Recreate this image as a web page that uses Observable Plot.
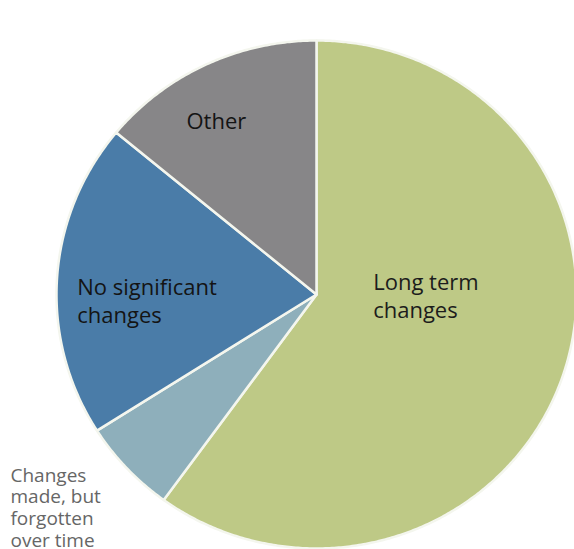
<!DOCTYPE html>
<html>
<head>
<meta charset="utf-8">
<script src="https://cdn.jsdelivr.net/npm/d3@7"></script>
<script src="https://cdn.jsdelivr.net/npm/@observablehq/plot@0.6"></script>
<style>
  html, body { margin: 0; padding: 0; background: #ffffff; }
  #chart svg { display: block; }
</style>
</head>
<body>
<div id="chart"></div>
<script>
// Data (clockwise from 12 o'clock)
const categories = ["Long term changes", "Changes made, but forgotten over time", "No significant changes", "Other"];
const values = [60, 6, 20, 14];
const labels = ["Long term\nchanges", "Changes\nmade, but\nforgotten\nover time", "No significant\nchanges", "Other"];
const colors = ["#bec986", "#8eafbb", "#4a7ca8", "#878688"];

// Build slice outlines in unit-circle coordinates from the data
const slices = d3.pie().sort(null).startAngle(0).endAngle(2 * Math.PI)(values);
const points = [];
slices.forEach((s, i) => {
  const cat = categories[i];
  points.push({cat, x: 0, y: 0});
  const n = Math.max(2, Math.ceil((s.endAngle - s.startAngle) / (Math.PI / 360)));
  for (let k = 0; k <= n; k++) {
    const a = s.startAngle + (s.endAngle - s.startAngle) * k / n;
    points.push({cat, x: Math.sin(a), y: Math.cos(a)});
  }
});

const font = "'Open Sans', 'DejaVu Sans', sans-serif";

const chart = Plot.plot({
  width: 574,
  height: 549,
  margin: 0,
  style: {background: "#ffffff", fontFamily: font},
  x: {domain: [-1, 1], range: [56, 576], axis: null},
  y: {domain: [-1, 1], range: [548, 40], axis: null},
  color: {domain: categories, range: colors},
  marks: [
    Plot.line(points, {
      x: "x", y: "y", z: "cat", fill: "cat",
      stroke: "#f4f6ee", strokeWidth: 2.5, strokeLinejoin: "round",
      curve: "linear-closed"
    }),
    Plot.text([labels[0]], {
      x: 0.218, y: 0.097, text: d => d, textAnchor: "start", lineAnchor: "top",
      fontSize: 22, lineHeight: 1.27, fill: "#1c1c1c", fontFamily: font
    }),
    Plot.text([labels[2]], {
      x: -0.92, y: 0.077, text: d => d, textAnchor: "start", lineAnchor: "top",
      fontSize: 22, lineHeight: 1.27, fill: "#141414", fontFamily: font
    }),
    Plot.text([labels[3]], {
      x: -0.385, y: 0.715, text: d => d, textAnchor: "middle", lineAnchor: "top",
      fontSize: 22, fill: "#141414", fontFamily: font
    }),
    Plot.text([labels[1]], {
      x: -1.177, y: -0.677, text: d => d, textAnchor: "start", lineAnchor: "top",
      fontSize: 19, lineHeight: 1.14, fill: "#666666", fontFamily: font
    })
  ]
});
document.getElementById("chart").appendChild(chart);
</script>
</body>
</html>
